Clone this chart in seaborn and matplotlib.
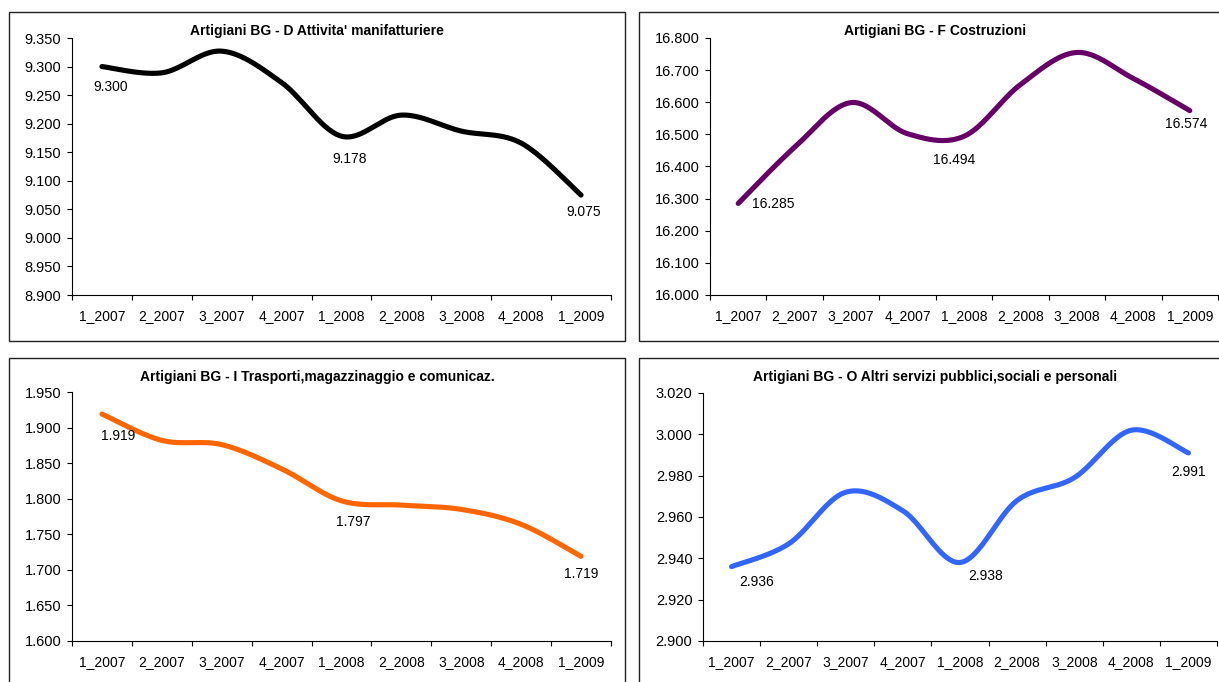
import numpy as np
import pandas as pd
import matplotlib
matplotlib.use("Agg")
import matplotlib.pyplot as plt
from matplotlib.patches import Rectangle
import seaborn as sns

# ---------------- data ----------------
categories = ['1_2007', '2_2007', '3_2007', '4_2007', '1_2008',
              '2_2008', '3_2008', '4_2008', '1_2009']

manifatturiere = [9300, 9289, 9327, 9272, 9178, 9215, 9187, 9166, 9075]
costruzioni = [16285, 16460, 16599, 16502, 16494, 16655, 16755, 16674, 16574]
trasporti = [1919, 1882, 1876, 1842, 1797, 1791, 1785, 1764, 1719]
altri_servizi = [2936, 2947, 2972, 2963, 2938, 2968, 2979, 3002, 2991]

titles = ["Artigiani BG - D Attivita' manifatturiere",
          "Artigiani BG - F Costruzioni",
          "Artigiani BG - I Trasporti,magazzinaggio e comunicaz.",
          "Artigiani BG - O Altri servizi pubblici,sociali e personali"]

labelled_points = [0, 4, 8]

# ---------------- style ----------------
sns.set_theme(style="white")
plt.rcParams['font.family'] = ['Liberation Sans', 'DejaVu Sans']
plt.rcParams['axes.edgecolor'] = 'black'
plt.rcParams['axes.linewidth'] = 0.8

W, H = 1219, 682
fig = plt.figure(figsize=(W / 100, H / 100), dpi=100)
fig.patch.set_facecolor('white')


def fx(px):
    return px / W


def fy(py):
    return 1 - py / H


def excel_smooth(values, n=40):
    """Excel-like smoothed path (cubic Bezier through every data point)."""
    pts = np.column_stack([np.arange(len(values)), np.asarray(values, float)])
    xs, ys = [], []
    m = len(pts)
    t = np.linspace(0, 1, n)
    for i in range(m - 1):
        p0 = pts[i - 1] if i > 0 else pts[i]
        p1 = pts[i]
        p2 = pts[i + 1]
        p3 = pts[i + 2] if i + 2 < m else pts[i + 1]
        c1 = p1 + (p2 - p0) / 6.0
        c2 = p2 - (p3 - p1) / 6.0
        tt = t if i == 0 else t[1:]
        b = ((1 - tt) ** 3)[:, None] * p1 + (3 * (1 - tt) ** 2 * tt)[:, None] * c1 \
            + (3 * (1 - tt) * tt ** 2)[:, None] * c2 + (tt ** 3)[:, None] * p2
        xs.extend(b[:, 0])
        ys.extend(b[:, 1])
    return np.array(xs), np.array(ys)


def fmt_it(v):
    return f"{v:,.0f}".replace(",", ".")


# panel geometry in pixels: axes (left, right, top, bottom), box (x0, y0, x1, y1)
panels = [
    dict(values=manifatturiere, color='#000000', ylim=(8900, 9350), step=50,
         axes=(72, 611, 38, 295), box=(9, 12, 625, 341), title_xy=(317, 31),
         offsets=[(9, 20), (8, 23), (3, 17)]),
    dict(values=costruzioni, color='#660066', ylim=(16000, 16800), step=100,
         axes=(710, 1218, 38, 295), box=(639, 12, 1240, 341), title_xy=(935, 31),
         offsets=[(35, 1), (-10, 24), (-4, 13)]),
    dict(values=trasporti, color='#FF6600', ylim=(1600, 1950), step=50,
         axes=(72, 611, 392, 641), box=(9, 358, 625, 700), title_xy=(317, 377),
         offsets=[(16, 22), (12, 21), (0, 18)]),
    dict(values=altri_servizi, color='#3366FF', ylim=(2900, 3020), step=20,
         axes=(703, 1217, 393, 641), box=(639, 358, 1240, 700), title_xy=(935, 377),
         offsets=[(25, 15), (26, 14), (0, 19)]),
]

for p, title in zip(panels, titles):
    # chart-area border
    bx0, by0, bx1, by1 = p['box']
    fig.add_artist(Rectangle((fx(bx0), fy(by1)), fx(bx1 - bx0), (by1 - by0) / H,
                             transform=fig.transFigure, fill=False,
                             edgecolor='#222222', linewidth=1.0, zorder=0))

    l, r, t, b = p['axes']
    ax = fig.add_axes([fx(l), fy(b), fx(r - l), (b - t) / H])
    ax.set_facecolor('none')

    xs, ys = excel_smooth(p['values'])
    df = pd.DataFrame({'x': xs, 'y': ys})
    sns.lineplot(data=df, x='x', y='y', sort=False, color=p['color'],
                 linewidth=3.7, ax=ax, solid_capstyle='round')

    lo, hi = p['ylim']
    ax.set_ylim(lo, hi)
    ax.set_xlim(-0.5, len(categories) - 0.5)
    yt = np.arange(lo, hi + p['step'] / 2, p['step'])
    ax.set_yticks(yt)
    ax.set_yticklabels([fmt_it(v) for v in yt], fontsize=10.5, color='black')
    ax.set_xticks(range(len(categories)))
    ax.set_xticklabels(categories, fontsize=10, color='black')
    ax.set_xticks(np.arange(-0.5, len(categories), 1), minor=True)
    ax.tick_params(axis='x', which='major', length=0, pad=10, bottom=True)
    ax.tick_params(axis='x', which='minor', length=3.6, width=0.8,
                   direction='out', color='black', bottom=True)
    ax.tick_params(axis='y', which='major', length=3.6, width=0.8, pad=4,
                   direction='out', color='black', left=True)
    ax.set_xlabel('')
    ax.set_ylabel('')
    sns.despine(ax=ax)

    for idx, (dx, dy) in zip(labelled_points, p['offsets']):
        ax.annotate(fmt_it(p['values'][idx]), xy=(idx, p['values'][idx]),
                    xytext=(dx, -dy), textcoords='offset pixels',
                    ha='center', va='center', fontsize=10, color='black')

    tx, ty = p['title_xy']
    fig.text(fx(tx), fy(ty), title, ha='center', va='center',
             fontsize=10, fontweight='bold', color='black')

fig.savefig('out.png', dpi=100, facecolor='white')
